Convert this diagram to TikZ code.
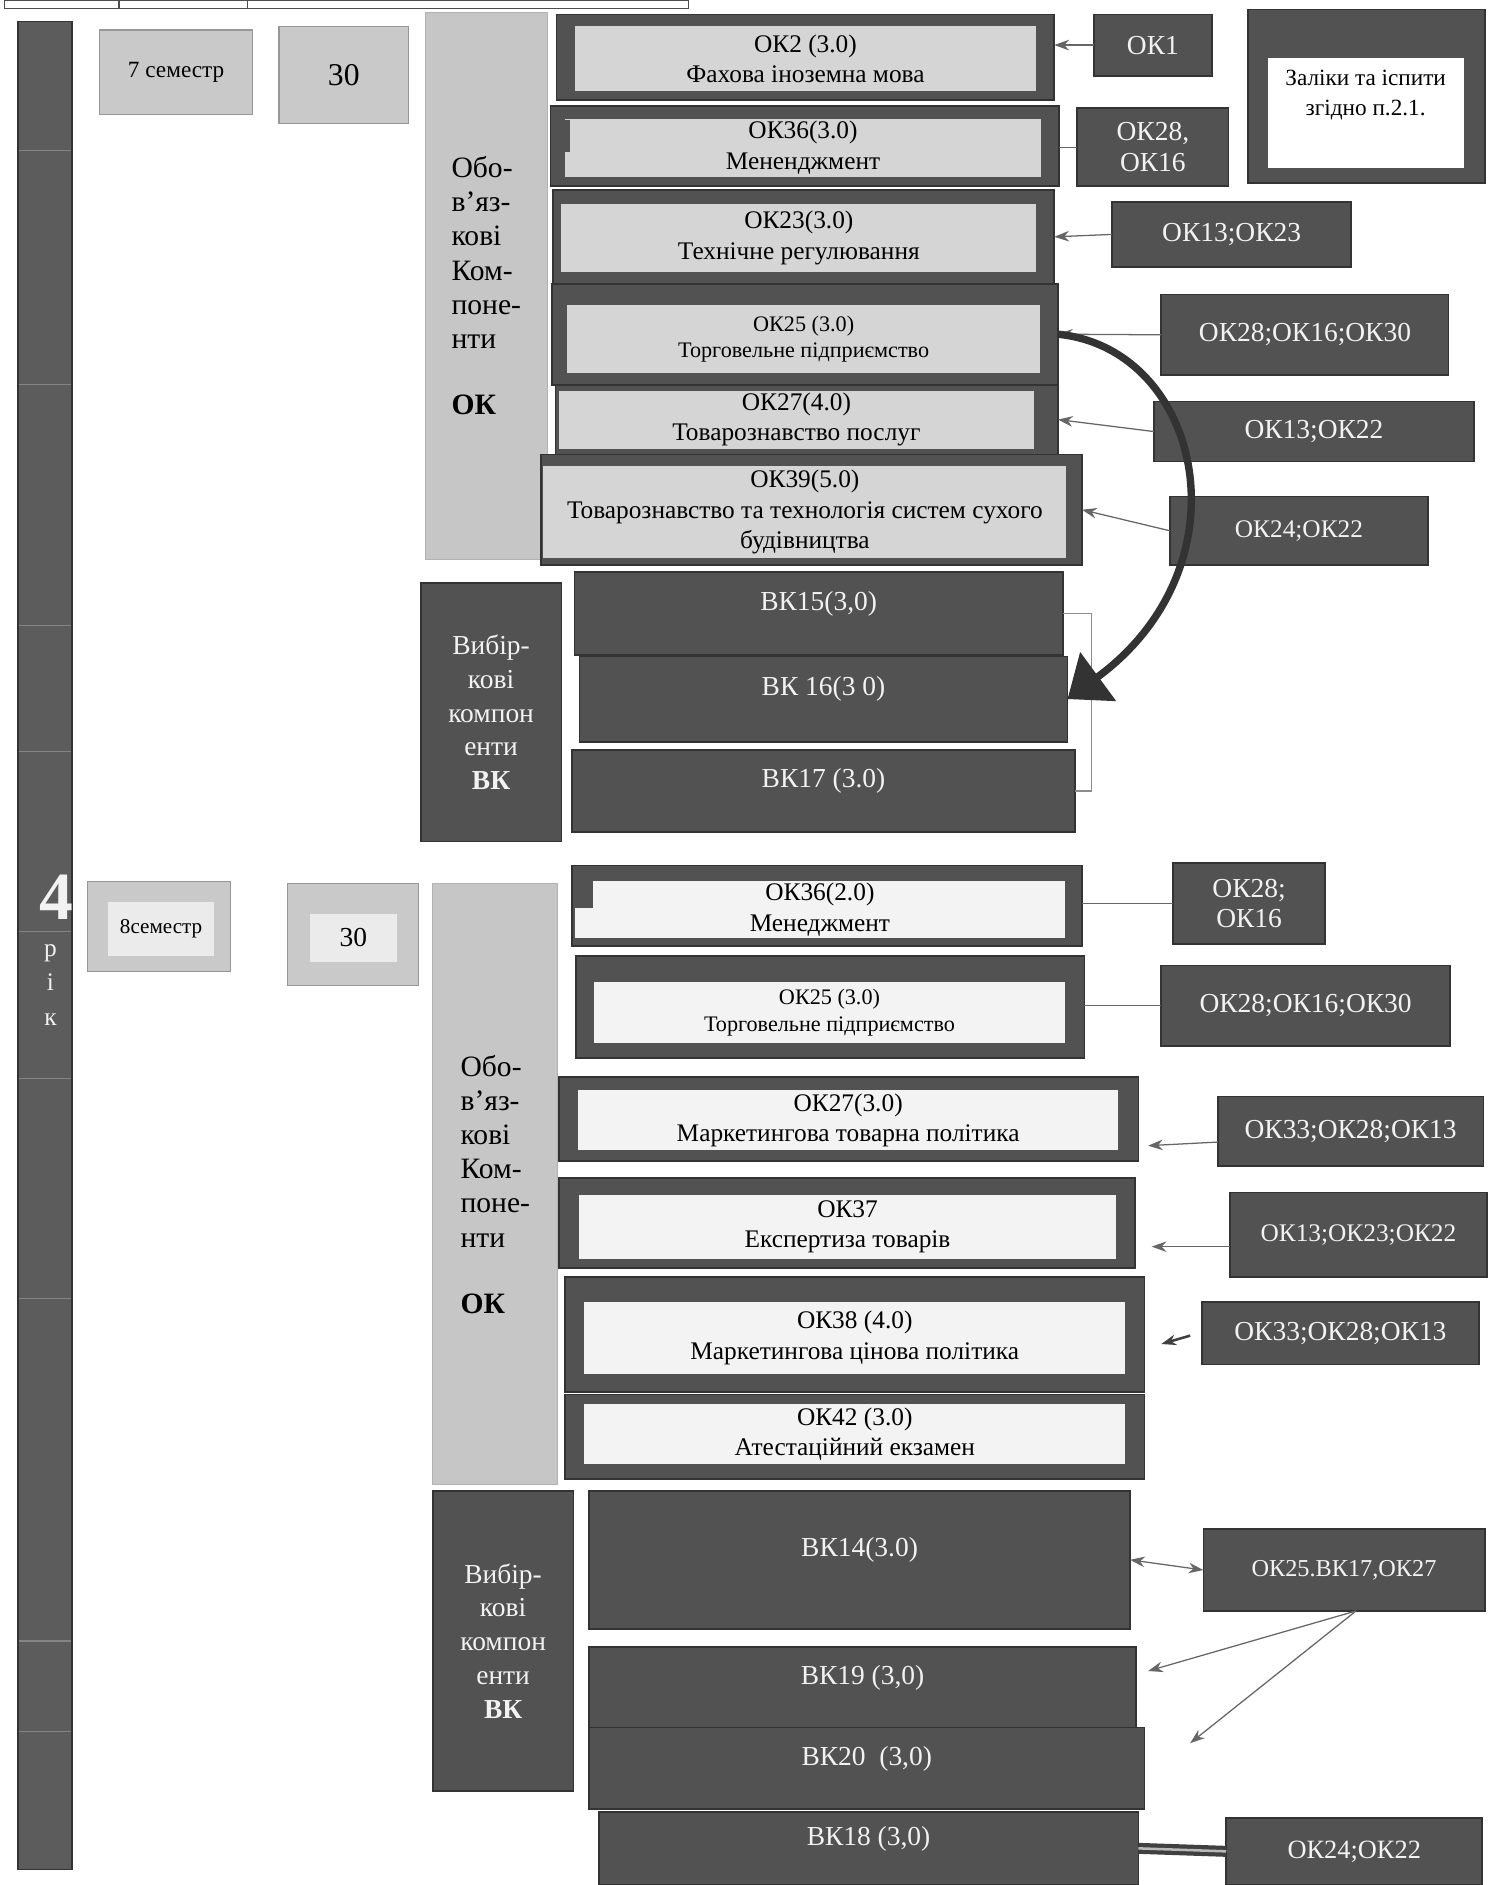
\documentclass[tikz,border=0pt]{standalone}
\usepackage{fontspec}
\setmainfont{Liberation Serif}
\usepackage{tikz}
\usetikzlibrary{positioning}
\usetikzlibrary{arrows.meta}
\usetikzlibrary{calc}

\definecolor{boxdark}{HTML}{525252}
\definecolor{bardark}{HTML}{5C5C5C}
\definecolor{colgray}{HTML}{C6C6C6}
\definecolor{semgray}{HTML}{C9C9C9}
\definecolor{inlight}{HTML}{D5D5D5}
\definecolor{inwhite}{HTML}{F3F3F3}
\definecolor{txtlight}{HTML}{F2F2F2}

% box from corner (x1,y1) to corner (x2,y2)
\newcommand{\plbox}[7]{%
  \pgfmathsetmacro{\plw}{abs(#5-#3)*0.02}%
  \pgfmathsetmacro{\plh}{abs(#6-#4)*0.02}%
  \node[#2, minimum width=\plw cm, minimum height=\plh cm] (#1) at ({(#3+#5)/2},{(#4+#6)/2}) {#7};%
}

\begin{document}
\begin{tikzpicture}[x=0.02cm, y=-0.02cm,
  dkbox/.style={draw=black!80, fill=boxdark, line width=0.8pt, inner sep=1pt, outer sep=0pt},
  ltin/.style={fill=inlight, inner sep=1pt, outer sep=0pt, align=center, font=\fontsize{12}{14.5}\selectfont},
  whin/.style={ltin, fill=inwhite},
  prebox/.style={dkbox, text=txtlight, align=center, font=\fontsize{13}{14.5}\selectfont},
  semcell/.style={draw=semgray!75!black, fill=semgray, line width=0.6pt, inner sep=1pt, outer sep=0pt},
  okcol/.style={draw=colgray!90!black, fill=colgray, align=left, inner sep=1pt, font=\fontsize{14}{16.2}\selectfont},
  vkcol/.style={dkbox, text=txtlight, align=center, font=\fontsize{13}{16}\selectfont},
  vkbox/.style={dkbox, text=txtlight, font=\fontsize{13}{15}\selectfont, text depth=12pt},
  link/.style={draw=black!60, line width=0.6pt, -{Stealth[length=7pt,width=5pt]}},
  dlink/.style={draw=black!60, line width=0.6pt, {Stealth[length=7pt,width=5pt]}-{Stealth[length=7pt,width=5pt]}},
  plain/.style={draw=black!60, line width=0.6pt},
  bracket/.style={draw=black!45, line width=0.6pt},
  barline/.style={draw=bardark!75!white, line width=0.5pt},
  thickbar/.style={draw=black!75, double=gray!55, double distance=1.2pt, line width=2pt},
  bigarrow/.style={draw=black!80, line width=3.5pt, -{Triangle[length=18pt,width=28pt]}}]
	\useasboundingbox (0,0) rectangle (1239,1568);
	% Table Edge %
	\draw[black!70, line width=0.6pt] (4,0) rectangle (573,7);
	\foreach \x in {99, 206}
		{\draw[black!70, line width=0.6pt] (\x,0) -- (\x,7);}
	% Year Bar %
	\plbox{year}{dkbox, fill=bardark}{15}{18}{60}{1555}{}
	\foreach \y in {125, 320, 520, 625, 775, 897, 1080, 1365, 1440}
		{\draw[barline] (16,\y) -- (59,\y);}
	\node[text=txtlight, font=\fontsize{32}{32}\selectfont\bfseries] (yearno) at (47,746) {4};
	\node[text=txtlight, font=\fontsize{12}{12}\selectfont] (yearr) at (42,793) {р};
	\node[text=txtlight, font=\fontsize{12}{12}\selectfont] (yeari) at (42,817) {і};
	\node[text=txtlight, font=\fontsize{12}{12}\selectfont] (yeark) at (42,848) {к};
	% 7 Semester %
	\plbox{sem7}{semcell, font=\fontsize{11}{13}\selectfont}{83}{25}{210}{95}{7 семестр}
	\plbox{cred7}{semcell, font=\fontsize{15}{17}\selectfont}{232}{22}{340}{103}{30}
	\plbox{okcol7}{okcol}{354}{10}{455}{465}{Обо-\\в’яз-\\кові\\Ком-\\поне-\\нти\\[15pt]\textbf{ОК}}
	% Compulsory Courses 7 %
	\plbox{ok2}{dkbox}{463}{12}{877}{83}{}
	\plbox{ok2in}{ltin}{478}{22}{862}{76}{ОК2 (3.0)\\Фахова іноземна мова}
	\plbox{ok36}{dkbox}{458}{88}{881}{155}{}
	\plbox{ok36in}{ltin}{470}{99}{866}{147}{ОК36(3.0)\\Мененджмент}
	\filldraw[boxdark] (462,100) rectangle (474,126);
	\plbox{ok23}{dkbox}{460}{158}{877}{236}{}
	\plbox{ok23in}{ltin}{467}{170}{862}{226}{ОК23(3.0)\\Технічне регулювання}
	\plbox{ok25}{dkbox}{459}{236}{880}{320}{}
	\plbox{ok25in}{ltin, font=\fontsize{10.5}{12.5}\selectfont}{472}{254}{865}{310}{ОК25 (3.0)\\Торговельне підприємство}
	\plbox{ok27}{dkbox}{462}{320}{880}{378}{}
	\plbox{ok27in}{ltin}{465}{326}{860}{372}{ОК27(4.0)\\Товарознавство послуг}
	\plbox{ok39}{dkbox}{450}{378}{900}{470}{}
	\plbox{ok39in}{ltin}{452}{388}{887}{464}{ОК39(5.0)\\Товарознавство та технологія систем сухого\\будівництва}
	% Prerequisites 7 %
	\plbox{ok1}{prebox}{910}{12}{1008}{63}{ОК1}
	\plbox{zal}{dkbox}{1038}{8}{1235}{152}{}
	\plbox{zalin}{fill=white, inner sep=0pt, outer sep=0pt}{1055}{48}{1218}{140}{}
	\node[align=center, font=\fontsize{11}{14}\selectfont] (zaltext) at (1136,79) {Заліки та іспити\\згідно п.2.1.};
	\plbox{ok2816}{prebox}{896}{90}{1022}{155}{ОК28,\\ОК16}
	\plbox{ok1323}{prebox}{925}{168}{1124}{222}{ОК13;ОК23}
	\plbox{ok281630}{prebox}{966}{245}{1205}{312}{ОК28;ОК16;ОК30}
	\plbox{ok1322}{prebox}{960}{334}{1226}{384}{ОК13;ОК22}
	\plbox{ok2422}{prebox, font=\fontsize{12}{14}\selectfont}{973}{413}{1188}{470}{ОК24;ОК22}
	\draw[link] (ok1.west) -- (ok1.west -| ok2.east);
	\draw[plain] (ok2816.west) -- (ok2816.west -| ok36.east);
	\draw[link] (ok1323.west) -- (ok23.east);
	\draw[link] (ok281630.west) -- (ok25.east);
	\draw[link] (ok1322.west) -- (ok27.east);
	\draw[link] (ok2422.west) -- (ok39.east);
	% Elective Courses 7 %
	\plbox{vkcol7}{vkcol}{350}{485}{467}{700}{Вибір-\\кові\\компон\\енти\\\textbf{ВК}}
	\plbox{bk15}{vkbox}{478}{476}{884}{545}{ВК15(3,0)}
	\plbox{bk16}{vkbox}{482}{546}{888}{617}{ВК 16(3 0)}
	\plbox{bk17}{vkbox}{476}{624}{894}{692}{ВК17 (3.0)}
	\draw[bracket] (bk15.east) -- ++(24,0) |- (bk17.east);
	\draw[bigarrow] (ok25.east) .. controls (1000,290) and (1040,470) .. (bk16.east);
	% 8 Semester %
	\plbox{sem8}{semcell}{73}{733}{192}{808}{}
	\plbox{sem8in}{fill=inwhite!80!semgray, inner sep=0pt, outer sep=0pt, font=\fontsize{10}{12}\selectfont}{90}{750}{178}{795}{8семестр}
	\plbox{cred8}{semcell}{239}{735}{348}{820}{}
	\plbox{cred8in}{fill=inwhite!80!semgray, inner sep=0pt, outer sep=0pt, font=\fontsize{13}{15}\selectfont}{258}{760}{330}{800}{30}
	\plbox{okcol8}{okcol}{360}{735}{464}{1235}{Обо-\\в’яз-\\кові\\Ком-\\поне-\\нти\\[15pt]\textbf{ОК}}
	% Compulsory Courses 8 %
	\plbox{ok36b}{dkbox}{476}{720}{900}{787}{}
	\plbox{ok36bin}{whin}{478}{733}{886}{780}{ОК36(2.0)\\Менеджмент}
	\filldraw[boxdark] (479,728) rectangle (493,755);
	\plbox{ok25b}{dkbox}{479}{795}{902}{880}{}
	\plbox{ok25bin}{whin, font=\fontsize{10.5}{12.5}\selectfont}{494}{817}{886}{868}{ОК25 (3.0)\\Торговельне підприємство}
	\plbox{ok27b}{dkbox}{465}{896}{947}{966}{}
	\plbox{ok27bin}{whin}{481}{907}{930}{957}{ОК27(3.0)\\Маркетингова товарна політика}
	\plbox{ok37}{dkbox}{465}{980}{944}{1055}{}
	\plbox{ok37in}{whin}{482}{994}{928}{1047}{ОК37\\Експертиза товарів}
	\plbox{ok38}{dkbox}{470}{1062}{952}{1158}{}
	\plbox{ok38in}{whin}{486}{1083}{936}{1143}{ОК38 (4.0)\\Маркетингова цінова політика}
	\plbox{ok42}{dkbox}{470}{1160}{952}{1230}{}
	\plbox{ok42in}{whin}{486}{1168}{936}{1218}{ОК42 (3.0)\\Атестаційний екзамен}
	% Prerequisites 8 %
	\plbox{ok2816b}{prebox}{976}{718}{1102}{785}{ОК28;\\ОК16}
	\plbox{ok281630b}{prebox}{966}{803}{1206}{870}{ОК28;ОК16;ОК30}
	\plbox{ok332813a}{prebox}{1013}{912}{1234}{970}{ОК33;ОК28;ОК13}
	\plbox{ok132322}{prebox, font=\fontsize{12}{14}\selectfont}{1023}{992}{1237}{1062}{ОК13;ОК23;ОК22}
	\plbox{ok332813b}{prebox}{1000}{1083}{1230}{1135}{ОК33;ОК28;ОК13}
	\coordinate (tipa) at (955,953);
	\coordinate (tipb) at (958,1037);
	\coordinate (tipc) at (966,1118);
	\draw[plain] (ok2816b.west) -- (ok2816b.west -| ok36b.east);
	\draw[plain] (ok281630b.west) -- (ok281630b.west -| ok25b.east);
	\draw[link] ($(ok332813a.west)+(0,9)$) -- (tipa);
	\draw[link] ($(ok132322.west)+(0,10)$) -- (tipb);
	\draw[link, line width=1.2pt, draw=black!75] ($(ok332813b.west)+(-10,2)$) -- (tipc);
	% Elective Courses 8 %
	\plbox{vkcol8}{vkcol}{360}{1240}{477}{1490}{Вибір-\\кові\\компон\\енти\\\textbf{ВК}}
	\plbox{bk14}{vkbox}{490}{1240}{940}{1355}{ВК14(3.0)}
	\plbox{bk19}{vkbox}{490}{1370}{945}{1437}{ВК19 (3,0)}
	\plbox{bk20}{vkbox}{490}{1437}{952}{1505}{ВК20\ \ (3,0)}
	\plbox{bk18}{vkbox}{498}{1507}{947}{1568}{ВК18 (3,0)}
	\plbox{ok25bk17}{prebox, font=\fontsize{11.5}{13}\selectfont}{1001}{1272}{1235}{1340}{ОК25.ВК17,ОК27}
	\plbox{ok2422b}{prebox, font=\fontsize{12.5}{14}\selectfont}{1020}{1512}{1233}{1568}{ОК24;ОК22}
	\coordinate (tipd) at (955,1390);
	\coordinate (tipe) at (990,1450);
	\draw[dlink] (bk14.east) -- (ok25bk17.west);
	\draw[link] ($(ok25bk17.south)+(10,0)$) -- (tipd);
	\draw[link] ($(ok25bk17.south)+(10,0)$) -- (tipe);
	\draw[thickbar] (bk18.east) -- (ok2422b.west);

\end{tikzpicture}
\end{document}
